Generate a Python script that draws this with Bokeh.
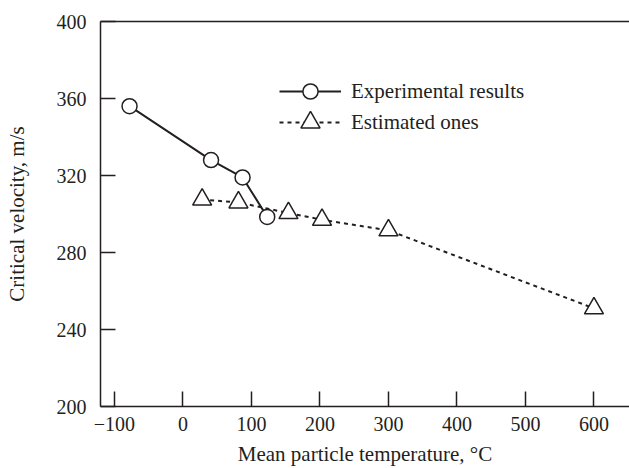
from bokeh.plotting import figure
from bokeh.models import (LinearAxis, FixedTicker, Legend, LegendItem, Range1d)
from bokeh.embed import file_html
from bokeh.resources import INLINE

# data
exp_temp = [-78, 41, 87, 123]
exp_vel = [356, 328, 319, 298.5]
est_temp = [28, 81, 154, 203, 300, 600]
est_vel = [307.5, 306, 300.5, 297, 291.5, 251]
x_ticks = [-100, 0, 100, 200, 300, 400, 500, 600]
y_ticks = [200, 240, 280, 320, 360, 400]
x_tick_labels = {-100: "\u2212100"}

INK = "#231f20"
FONT = "Liberation Serif"

p = figure(width=629, height=468, output_backend="svg", toolbar_location=None,
           x_range=Range1d(-120.4, 651.9), y_range=Range1d(200, 400),
           x_axis_type=None, y_axis_type=None,
           min_border_left=100, min_border_right=0, min_border_top=21,
           min_border_bottom=61)
p.outline_line_color = None
p.grid.visible = False
p.background_fill_color = "white"
p.border_fill_color = "white"

xa = LinearAxis(ticker=FixedTicker(ticks=x_ticks),
                axis_label="Mean particle temperature, \u00b0C")
xa.major_label_overrides = x_tick_labels
ya = LinearAxis(ticker=FixedTicker(ticks=y_ticks),
                axis_label="Critical velocity, m/s")
for ax in (xa, ya):
    ax.axis_line_color = INK
    ax.axis_line_width = 1.5
    ax.major_tick_line_color = INK
    ax.major_tick_line_width = 1.5
    ax.major_tick_in = 15
    ax.major_tick_out = 0
    ax.minor_tick_line_color = None
    ax.major_label_text_font = FONT
    ax.major_label_text_font_size = "20px"
    ax.major_label_text_color = INK
    ax.axis_label_text_font = FONT
    ax.axis_label_text_font_size = "21px"
    ax.axis_label_text_font_style = "normal"
    ax.axis_label_text_color = INK
xa.major_label_standoff = 10
xa.axis_label_standoff = 8
ya.major_label_standoff = 14
ya.axis_label_standoff = 25
p.add_layout(xa, "below")
p.add_layout(ya, "left")

top = LinearAxis(ticker=FixedTicker(ticks=[]))
top.axis_line_color = INK
top.axis_line_width = 1.5
top.major_tick_line_color = None
top.minor_tick_line_color = None
top.major_label_text_font_size = "0px"
p.add_layout(top, "above")

est_line = p.line(est_temp, est_vel, line_color=INK, line_width=2, line_dash="4 4")
exp_line = p.line(exp_temp, exp_vel, line_color=INK, line_width=2)
est_pts = p.scatter(est_temp, est_vel, marker="triangle", size=19,
                    fill_color="white", line_color=INK, line_width=1.5)
exp_pts = p.scatter(exp_temp, exp_vel, marker="circle", size=15,
                    fill_color="white", line_color=INK, line_width=1.5)


def make_legend(label, renderers, gh, loc):
    lg = Legend(items=[LegendItem(label=label, renderers=renderers)])
    lg.location = loc
    lg.glyph_width = 62
    lg.glyph_height = gh
    lg.label_standoff = 10
    lg.padding = 0
    lg.margin = 0
    lg.border_line_color = None
    lg.background_fill_alpha = 0
    lg.label_text_font = FONT
    lg.label_text_font_size = "21px"
    lg.label_text_color = INK
    lg.label_height = gh
    p.add_layout(lg)


make_legend("Experimental results", [exp_line, exp_pts], 38, (179, 296))
make_legend("Estimated ones", [est_line, est_pts], 48, (179, 260))

open("out.html", "w").write(file_html(p, INLINE))
